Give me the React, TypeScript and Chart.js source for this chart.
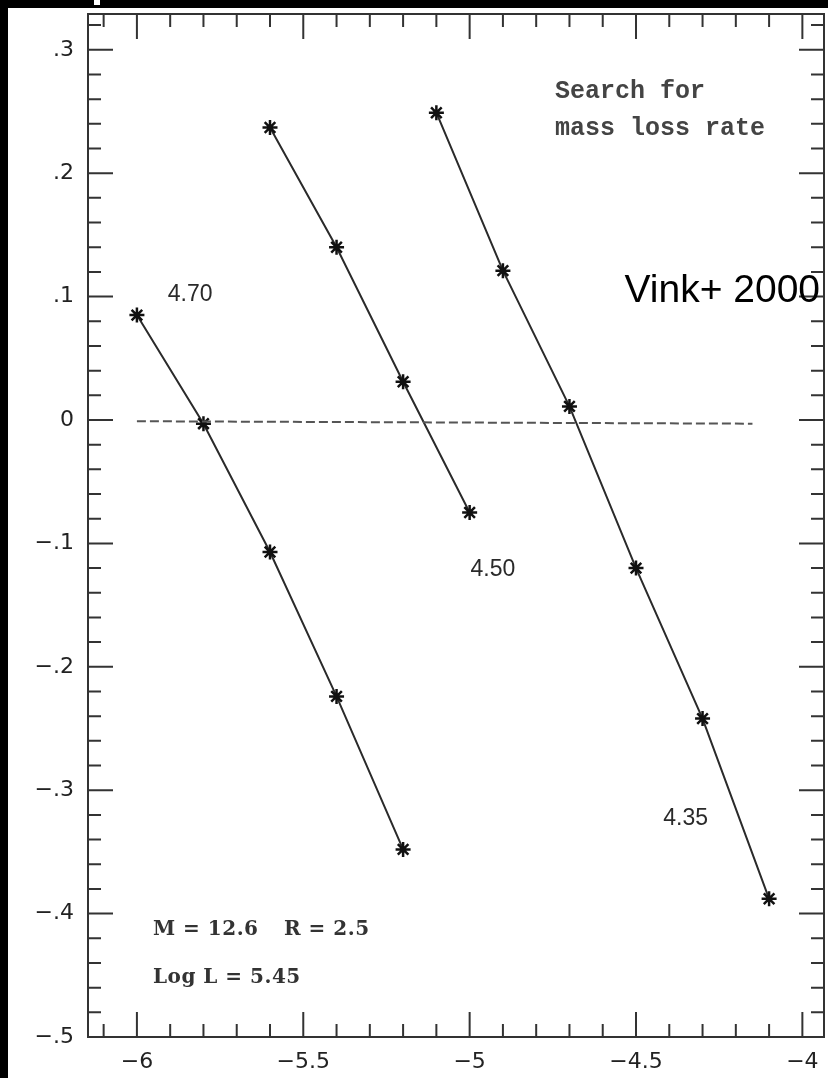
import React, { useEffect, useRef } from 'react';
import { Chart, registerables } from 'chart.js';

Chart.register(...registerables);

// ---- data ----
const seriesA_x = [-6.0, -5.8, -5.6, -5.4, -5.2];
const seriesA_y = [0.085, -0.003, -0.107, -0.224, -0.348];
const seriesB_x = [-5.6, -5.4, -5.2, -5.0];
const seriesB_y = [0.237, 0.140, 0.031, -0.075];
const seriesC_x = [-5.1, -4.9, -4.7, -4.5, -4.3, -4.1];
const seriesC_y = [0.249, 0.121, 0.011, -0.120, -0.242, -0.388];
const zeroLine_x = [-6.0, -4.15];
const zeroLine_y = [-0.001, -0.003];

// ---- axes ----
const X_MIN = -6.147;
const X_MAX = -3.935;
const Y_MIN = -0.5;
const Y_MAX = 0.329;
const xMajorTicks = [-6, -5.5, -5, -4.5, -4];
const xTickLabels = ['\u22126', '\u22125.5', '\u22125', '\u22124.5', '\u22124'];
const xMinorTicks = [-6.1, -5.9, -5.8, -5.7, -5.6, -5.4, -5.3, -5.2, -5.1, -4.9, -4.8, -4.7, -4.6, -4.4, -4.3, -4.2, -4.1];
const yMajorTicks = [0.3, 0.2, 0.1, 0, -0.1, -0.2, -0.3, -0.4, -0.5];
const yTickLabels = ['.3', '.2', '.1', '0', '\u2212.1', '\u2212.2', '\u2212.3', '\u2212.4', '\u2212.5'];
const yMinorTicks = [0.32, 0.28, 0.26, 0.24, 0.22, 0.18, 0.16, 0.14, 0.12, 0.08, 0.06, 0.04, 0.02,
  -0.02, -0.04, -0.06, -0.08, -0.12, -0.14, -0.16, -0.18, -0.22, -0.24, -0.26, -0.28,
  -0.32, -0.34, -0.36, -0.38, -0.42, -0.44, -0.46, -0.48];

// ---- annotations (text, anchor in data coords) ----
const annotationTexts = ['4.70', '4.50', '4.35', 'Search for', 'mass loss rate', 'M = 12.6', 'R = 2.5', 'Log L = 5.45', 'Vink+ 2000'];
const annotationX = [-5.840, -4.930, -4.351, -4.7435, -4.7435, -5.9517, -5.558, -5.9517, -3.947];
const annotationY = [0.1013, -0.1216, -0.323, 0.2609, 0.2309, -0.4174, -0.4174, -0.4563, 0.0956];
const annotationStyle = ['curve', 'curve', 'curve', 'mono', 'mono', 'serif', 'serif', 'serif', 'credit'];

const pts = (xs: number[], ys: number[]) => xs.map((x, i) => ({ x, y: ys[i] }));

const LINE_COLOR = '#2a2a2a';

const framePlugin = {
  id: 'frameTicks',
  afterDatasetsDraw(chart: any) {
    const { ctx, chartArea: a, scales } = chart;
    const x = scales.x;
    const y = scales.y;
    ctx.save();
    ctx.strokeStyle = '#333';
    ctx.lineWidth = 2;
    ctx.strokeRect(a.left, a.top, a.right - a.left, a.bottom - a.top);
    const MAJ = 25;
    const MIN = 13;
    ctx.beginPath();
    const xt = (v: number, len: number) => {
      const px = x.getPixelForValue(v);
      ctx.moveTo(px, a.bottom);
      ctx.lineTo(px, a.bottom - len);
      ctx.moveTo(px, a.top);
      ctx.lineTo(px, a.top + len);
    };
    const yt = (v: number, len: number) => {
      const py = y.getPixelForValue(v);
      ctx.moveTo(a.left, py);
      ctx.lineTo(a.left + len, py);
      ctx.moveTo(a.right, py);
      ctx.lineTo(a.right - len, py);
    };
    xMajorTicks.forEach((v) => xt(v, MAJ));
    xMinorTicks.forEach((v) => xt(v, MIN));
    yMajorTicks.forEach((v) => yt(v, MAJ));
    yMinorTicks.forEach((v) => yt(v, MIN));
    ctx.stroke();
    ctx.restore();
  },
};

const textPlugin = {
  id: 'annotTexts',
  afterDraw(chart: any) {
    const { ctx, scales } = chart;
    ctx.save();
    annotationTexts.forEach((t, i) => {
      const px = scales.x.getPixelForValue(annotationX[i]);
      const py = scales.y.getPixelForValue(annotationY[i]);
      const st = annotationStyle[i];
      (ctx as any).letterSpacing = '0px';
      if (st === 'curve') {
        ctx.font = '23px "Liberation Sans", Arial, sans-serif';
        ctx.fillStyle = '#2a2a2a';
        ctx.textAlign = 'center';
        ctx.textBaseline = 'middle';
      } else if (st === 'mono') {
        ctx.font = 'bold 25px "Liberation Mono", "Courier New", monospace';
        ctx.fillStyle = '#444';
        ctx.textAlign = 'left';
        ctx.textBaseline = 'alphabetic';
      } else if (st === 'serif') {
        ctx.font = 'bold 20px "DejaVu Serif", serif';
        (ctx as any).letterSpacing = '0.5px';
        ctx.fillStyle = '#333';
        ctx.textAlign = 'left';
        ctx.textBaseline = 'alphabetic';
      } else {
        ctx.font = '39px "Liberation Sans", Arial, sans-serif';
        ctx.fillStyle = '#000';
        ctx.textAlign = 'right';
        ctx.textBaseline = 'alphabetic';
      }
      ctx.fillText(t, px, py);
    });
    ctx.restore();
  },
};

export default function App() {
  const canvasRef = useRef<HTMLCanvasElement | null>(null);

  useEffect(() => {
    if (!canvasRef.current) return;
    const seriesStyle = {
      showLine: true,
      borderColor: LINE_COLOR,
      borderWidth: 2,
      pointStyle: 'star' as const,
      pointRadius: 7.5,
      pointBorderWidth: 2.5,
      pointBorderColor: '#111',
      pointBackgroundColor: '#111',
      fill: false,
      tension: 0,
    };
    const chart = new Chart(canvasRef.current, {
      type: 'scatter',
      data: {
        datasets: [
          {
            label: 'zero',
            data: pts(zeroLine_x, zeroLine_y),
            showLine: true,
            borderColor: '#555',
            borderWidth: 2,
            borderDash: [9, 4],
            pointRadius: 0,
            fill: false,
          },
          { label: '4.70', data: pts(seriesA_x, seriesA_y), ...seriesStyle },
          { label: '4.50', data: pts(seriesB_x, seriesB_y), ...seriesStyle },
          { label: '4.35', data: pts(seriesC_x, seriesC_y), ...seriesStyle },
        ],
      },
      options: {
        animation: false,
        responsive: false,
        maintainAspectRatio: false,
        devicePixelRatio: 1,
        layout: { padding: { top: 6, right: 4, left: 0, bottom: 0 }, autoPadding: false },
        plugins: { legend: { display: false }, tooltip: { enabled: false } },
        scales: {
          x: {
            type: 'linear',
            min: X_MIN,
            max: X_MAX,
            grid: { display: false, drawTicks: false },
            border: { display: false },
            afterBuildTicks: (s: any) => {
              s.ticks = xMajorTicks.map((v) => ({ value: v }));
            },
            afterFit: (s: any) => {
              s.height = 41;
              s.paddingLeft = 0;
              s.paddingRight = 0;
            },
            ticks: {
              autoSkip: false,
              maxRotation: 0,
              padding: 12,
              color: '#222',
              font: { family: '"DejaVu Sans", sans-serif', size: 22 },
              callback: (_v: any, i: number) => xTickLabels[i],
            },
          },
          y: {
            type: 'linear',
            min: Y_MIN,
            max: Y_MAX,
            grid: { display: false, drawTicks: false },
            border: { display: false },
            afterBuildTicks: (s: any) => {
              s.ticks = yMajorTicks.map((v) => ({ value: v }));
            },
            afterFit: (s: any) => {
              s.width = 80;
              s.paddingTop = 0;
              s.paddingBottom = 0;
            },
            ticks: {
              autoSkip: false,
              padding: 14,
              color: '#222',
              font: { family: '"DejaVu Sans", sans-serif', size: 22 },
              callback: (_v: any, i: number) => yTickLabels[i],
            },
          },
        },
      },
      plugins: [framePlugin, textPlugin],
    } as any);
    return () => chart.destroy();
  }, []);

  return (
    <div style={{ position: 'fixed', left: 0, top: 0, width: 828, height: 1078, background: '#000', overflow: 'hidden' }}>
      <div style={{ position: 'absolute', left: 8, top: 8, width: 820, height: 1070, background: '#fff' }}>
        <canvas ref={canvasRef} width={820} height={1070} style={{ display: 'block', width: 820, height: 1070 }} />
      </div>
      <div style={{ position: 'absolute', left: 94, top: 0, width: 6, height: 5, background: '#fff' }} />
    </div>
  );
}
